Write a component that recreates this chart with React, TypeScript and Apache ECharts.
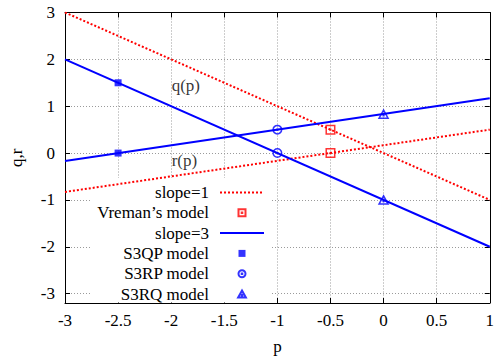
import React, { useEffect, useRef } from "react";
import * as echarts from "echarts";

// Lines (endpoints)
const slope1Q = [[-3, 3], [1, -1]];
const slope1R = [[-3, -0.83], [1, 0.5]];
const slope3Q = [[-3, 2], [1, -2]];
const slope3R = [[-3, -0.17], [1, 1.17]];
// Model points
const vremanPts = [[-0.5, 0.5], [-0.5, 0]];
const s3qpPts = [[-2.5, 1.5], [-2.5, 0]];
const s3rpPts = [[-1, 0.5], [-1, 0]];
const s3rqPts = [[0, 0.83], [0, -1]];
// Axis ticks
const yTicks = [-3, -2, -1, 0, 1, 2, 3];
const xMin = -3, xMax = 1, xStep = 0.5;
const yMin = -3.2, yMax = 3;
// Curve labels
const curveLabels = [
  { name: "q(p)", value: [-2, 1.45] },
  { name: "r(p)", value: [-2, -0.15] },
];
const legendNames = ["slope=1", "Vreman\u2019s model", "slope=3", "S3QP model", "S3RP model", "S3RQ model"];
const lineLegendNames = ["slope=1", "slope=3"];

const FONT = "'Liberation Serif', 'Times New Roman', serif";
const RED = "#ff0000";
const BLUE = "#0000ff";

const openSquare = "path://M0,0H10V10H0Z M4.6,4.6H5.4V5.4H4.6Z";
const openCircle = "path://M0,5A5,5,0,1,0,10,5A5,5,0,1,0,0,5Z M4.6,4.6H5.4V5.4H4.6Z";
const openTriangle = "path://M5,0L10,9L0,9Z M4.6,5.6H5.4V6.4H4.6Z";
const filledSquare = "path://M0,0H10V10H0Z";

export default function App() {
  const ref = useRef<HTMLDivElement>(null);
  useEffect(() => {
    if (!ref.current) return;
    const chart = echarts.init(ref.current, undefined, { renderer: "svg" });
    const tickStyle = { show: true, inside: true, length: 5, lineStyle: { color: "#000", width: 1 } };
    const lineAxis = { show: true, onZero: false, lineStyle: { color: "#000", width: 1 } };
    const gridLine = { color: "#9a9a9a", width: 1, type: [1, 2] };
    const option: any = {
      animation: false,
      grid: { left: 57, right: 2.5, top: 12.5, bottom: 52, containLabel: false },
      legend: {
        data: legendNames.map((n) =>
          lineLegendNames.includes(n)
            ? { name: n, itemStyle: { color: "rgba(0,0,0,0)", borderWidth: 0, opacity: 0 } }
            : { name: n }
        ),
        orient: "vertical",
        align: "right",
        right: 227,
        top: 178,
        padding: [6, 5, 0, 7],
        itemGap: 3.3,
        itemWidth: 44,
        itemHeight: 7,
        selectedMode: false,
        backgroundColor: "#fff",
        z: 1,
        textStyle: {
          fontFamily: FONT, fontSize: 17, color: "#000",
          width: 140, padding: [0, 6, 0, 0],
        },
      },
      xAxis: [
        {
          type: "value", min: xMin, max: xMax, interval: xStep, position: "bottom",
          axisLine: lineAxis, axisTick: tickStyle,
          splitLine: { show: true, lineStyle: gridLine },
          axisLabel: { fontFamily: FONT, fontSize: 17, color: "#000", margin: 9 },
          name: "p", nameLocation: "middle", nameGap: 35,
          nameTextStyle: { fontFamily: FONT, fontSize: 17, color: "#000" },
        },
        {
          type: "value", min: xMin, max: xMax, interval: xStep, position: "top",
          axisLine: lineAxis, axisTick: tickStyle, splitLine: { show: false }, axisLabel: { show: false },
        },
      ],
      yAxis: [
        {
          type: "value", min: yMin, max: yMax, position: "left",
          axisLine: lineAxis, axisTick: { ...tickStyle, customValues: yTicks },
          splitLine: { show: true, lineStyle: gridLine },
          axisLabel: { fontFamily: FONT, fontSize: 17, color: "#000", margin: 10, customValues: yTicks },
          name: "q,r", nameLocation: "middle", nameGap: 40,
          nameTextStyle: { fontFamily: FONT, fontSize: 17, color: "#000" },
        },
        {
          type: "value", min: yMin, max: yMax, position: "right",
          axisLine: lineAxis, axisTick: { ...tickStyle, customValues: yTicks }, splitLine: { show: false },
          axisLabel: { show: false, customValues: yTicks },
        },
      ],
      series: [
        { name: "slope=1", type: "line", data: slope1Q, symbol: "none", color: RED, lineStyle: { color: RED, width: 2, type: [2, 2] } },
        { name: "slope=1", type: "line", data: slope1R, symbol: "none", color: RED, lineStyle: { color: RED, width: 2, type: [2, 2] } },
        { name: "slope=3", type: "line", data: slope3Q, symbol: "none", color: BLUE, lineStyle: { color: BLUE, width: 2 } },
        { name: "slope=3", type: "line", data: slope3R, symbol: "none", color: BLUE, lineStyle: { color: BLUE, width: 2 } },
        {
          name: "Vreman\u2019s model", type: "scatter", data: vremanPts, symbol: openSquare, symbolSize: 8.5, z: 4,
          itemStyle: { color: "rgba(0,0,0,0)", borderColor: RED, borderWidth: 1.5 },
        },
        {
          name: "S3QP model", type: "scatter", data: s3qpPts, symbol: filledSquare, symbolSize: 7, z: 4,
          itemStyle: { color: BLUE },
        },
        {
          name: "S3RP model", type: "scatter", data: s3rpPts, symbol: openCircle, symbolSize: 8.5, z: 4,
          itemStyle: { color: "rgba(0,0,0,0)", borderColor: BLUE, borderWidth: 1.5 },
        },
        {
          name: "S3RQ model", type: "scatter", data: s3rqPts, symbol: openTriangle, symbolSize: [9, 8], z: 4,
          itemStyle: { color: "rgba(0,0,0,0)", borderColor: BLUE, borderWidth: 1.5 },
        },
        {
          name: "curveLabels", type: "scatter", data: curveLabels, symbolSize: 1, silent: true,
          itemStyle: { color: "rgba(0,0,0,0)" },
          label: {
            show: true, formatter: "{b}", position: "right", distance: 0,
            fontFamily: FONT, fontSize: 17, color: "#000",
          },
        },
      ],
    };
    chart.setOption(option);
    return () => chart.dispose();
  }, []);
  return (
    <div
      ref={ref}
      style={{ position: "fixed", left: 0, top: 0, width: 497, height: 360, background: "#fff" }}
    />
  );
}
